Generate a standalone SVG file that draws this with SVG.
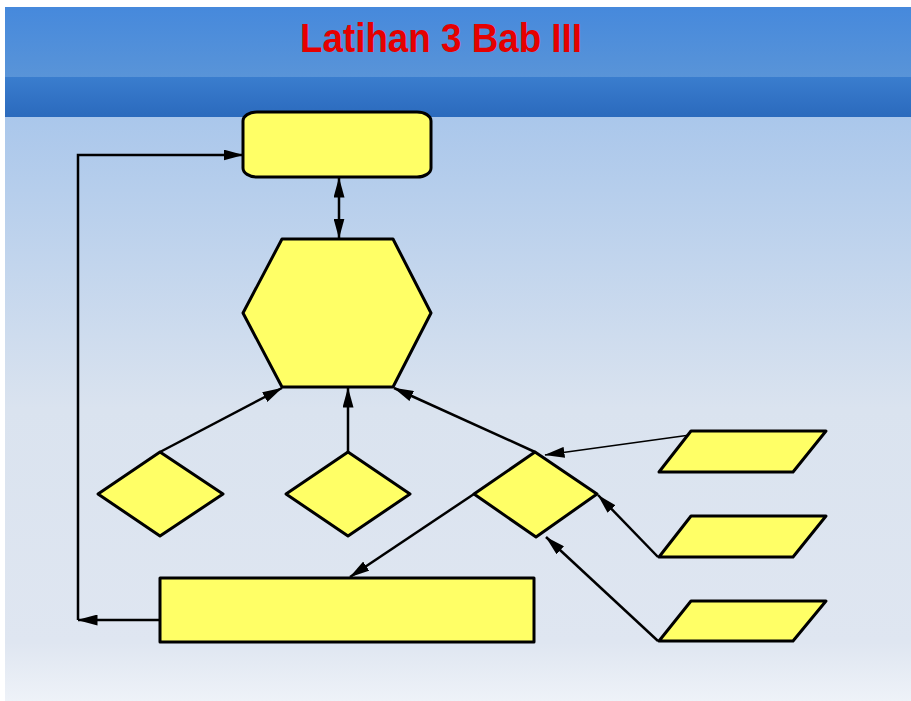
<svg xmlns="http://www.w3.org/2000/svg" width="911" height="701" viewBox="0 0 911 701">
  <defs>
    <linearGradient id="bgBody" x1="0" y1="117" x2="0" y2="701" gradientUnits="userSpaceOnUse">
      <stop offset="0" stop-color="#aac7eb"/>
      <stop offset="0.5" stop-color="#dae3ef"/>
      <stop offset="0.9" stop-color="#dfe6f1"/>
      <stop offset="1" stop-color="#eef2f8"/>
    </linearGradient>
    <linearGradient id="bandTop" x1="0" y1="7" x2="0" y2="77" gradientUnits="userSpaceOnUse">
      <stop offset="0" stop-color="#4689dc"/>
      <stop offset="1" stop-color="#5994d8"/>
    </linearGradient>
    <linearGradient id="bandBot" x1="0" y1="77" x2="0" y2="117" gradientUnits="userSpaceOnUse">
      <stop offset="0" stop-color="#3a7dce"/>
      <stop offset="1" stop-color="#2b6abd"/>
    </linearGradient>
    <marker id="arr" viewBox="0 0 20 11" refX="19.5" refY="5.5" markerWidth="20" markerHeight="11" markerUnits="userSpaceOnUse" orient="auto-start-reverse">
      <path d="M0,0 L20,5.5 L0,11 z" fill="#000"/>
    </marker>
    <style>
      .node { fill: #ffff66; stroke: #000; stroke-width: 3; stroke-linejoin: round; }
      .conn { fill: none; stroke: #000; stroke-width: 2.5; }
      .thin { stroke-width: 1.6; }
      .title { font-family: "Liberation Sans", Arial, sans-serif; font-weight: bold; fill: #e60000; }
    </style>
  </defs>

  <rect x="0" y="0" width="911" height="701" fill="#ffffff"/>
  <rect x="5" y="117" width="906" height="584" fill="url(#bgBody)"/>
  <rect x="5" y="7" width="906" height="70" fill="url(#bandTop)"/>
  <rect x="5" y="77" width="906" height="40" fill="url(#bandBot)"/>
  <text class="title" x="300" y="52" font-size="40" textLength="282" lengthAdjust="spacingAndGlyphs">Latihan 3 Bab III</text>

  <g id="connectors">
    <line class="conn" x1="160" y1="620" x2="78" y2="620" marker-end="url(#arr)"/>
    <polyline class="conn" points="78,620 78,155 243,155" marker-end="url(#arr)"/>
    <line class="conn" x1="339" y1="178" x2="339" y2="238" marker-start="url(#arr)" marker-end="url(#arr)"/>
    <line class="conn" x1="160" y1="452" x2="282" y2="388" marker-end="url(#arr)"/>
    <line class="conn" x1="348" y1="452" x2="348" y2="388" marker-end="url(#arr)"/>
    <line class="conn" x1="535" y1="452" x2="394" y2="388" marker-end="url(#arr)"/>
    <line class="conn thin" x1="690" y1="435" x2="545" y2="455" marker-end="url(#arr)"/>
    <line class="conn" x1="658" y1="557" x2="598" y2="495" marker-end="url(#arr)"/>
    <line class="conn" x1="658" y1="641" x2="546" y2="537" marker-end="url(#arr)"/>
    <line class="conn" x1="474" y1="494" x2="350" y2="577" marker-end="url(#arr)"/>
  </g>

  <g id="node-top">
    <rect class="node" x="243" y="112" width="188" height="65" rx="14" ry="9"/>
  </g>
  <g id="node-hexagon">
    <polygon class="node" points="282,239 393,239 431,313 393,387 282,387 243,313"/>
  </g>
  <g id="node-diamond1">
    <polygon class="node" points="160,452 223,494 160,536 98,494"/>
  </g>
  <g id="node-diamond2">
    <polygon class="node" points="348,452 410,494 348,536 286,494"/>
  </g>
  <g id="node-diamond3">
    <polygon class="node" points="535,452 597,494 536,537 474,494"/>
  </g>
  <g id="node-para1">
    <polygon class="node" points="691,431 826,431 793,472 659,472"/>
  </g>
  <g id="node-para2">
    <polygon class="node" points="691,516 826,516 793,557 659,557"/>
  </g>
  <g id="node-para3">
    <polygon class="node" points="691,601 826,601 793,641 659,641"/>
  </g>
  <g id="node-rect">
    <rect class="node" x="160" y="578" width="374" height="64"/>
  </g>
</svg>
